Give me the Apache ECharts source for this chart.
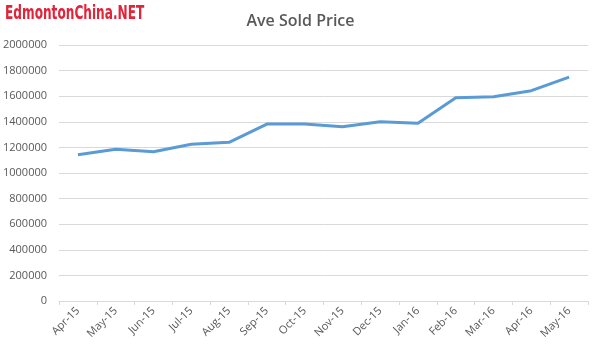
<!DOCTYPE html>
<html><head><meta charset="utf-8">
<script src="https://cdn.jsdelivr.net/npm/echarts@6/dist/echarts.min.js"></script>
<style>html,body{margin:0;padding:0;background:#fff}#c{width:601px;height:354px}</style>
</head><body><div id="c"></div>
<script>
const categories = ['Apr-15','May-15','Jun-15','Jul-15','Aug-15','Sep-15','Oct-15','Nov-15','Dec-15','Jan-16','Feb-16','Mar-16','Apr-16','May-16'];
const avePrice = [1143000,1185000,1166000,1224000,1240000,1382000,1382000,1362000,1400000,1388000,1588000,1596000,1643000,1749000];
const chartTitle = 'Ave Sold Price';
const watermark = 'EdmontonChina.NET';

const chart = echarts.init(document.getElementById('c'), null, {renderer:'canvas'});
chart.setOption({
  animation:false,
  backgroundColor:'#fff',
  title:{
    text: chartTitle, left:'center', top:8,
    textStyle:{fontFamily:'Open Sans', fontSize:16, fontWeight:600, color:'#595959'}
  },
  graphic:[{
    type:'text', x:5, y:5, scaleX:0.71, scaleY:1,
    style:{text: watermark, font:'bold 19px "DejaVu Sans Condensed"', fill:'#e0243a', textVerticalAlign:'top'}
  }],
  grid:{left:59, right:13, top:45, bottom:53},
  xAxis:{
    type:'category', data:categories, boundaryGap:true,
    axisLine:{lineStyle:{color:'#d9d9d9', width:1}},
    axisTick:{show:true, length:4, lineStyle:{color:'#d9d9d9'}},
    axisLabel:{rotate:45, color:'#595959', fontFamily:'Open Sans', fontSize:11, margin:8, interval:0}
  },
  yAxis:{
    type:'value', min:0, max:2000000, interval:200000,
    axisLine:{show:false}, axisTick:{show:false},
    splitLine:{lineStyle:{color:'#d9d9d9', width:1}},
    axisLabel:{color:'#595959', fontFamily:'Open Sans', fontSize:11, margin:12, formatter:(v)=>String(v)}
  },
  series:[{
    type:'line', data:avePrice, showSymbol:false, symbol:'none',
    lineStyle:{color:'#5b9bd5', width:3}, itemStyle:{color:'#5b9bd5'}
  }]
});
</script></body></html>
